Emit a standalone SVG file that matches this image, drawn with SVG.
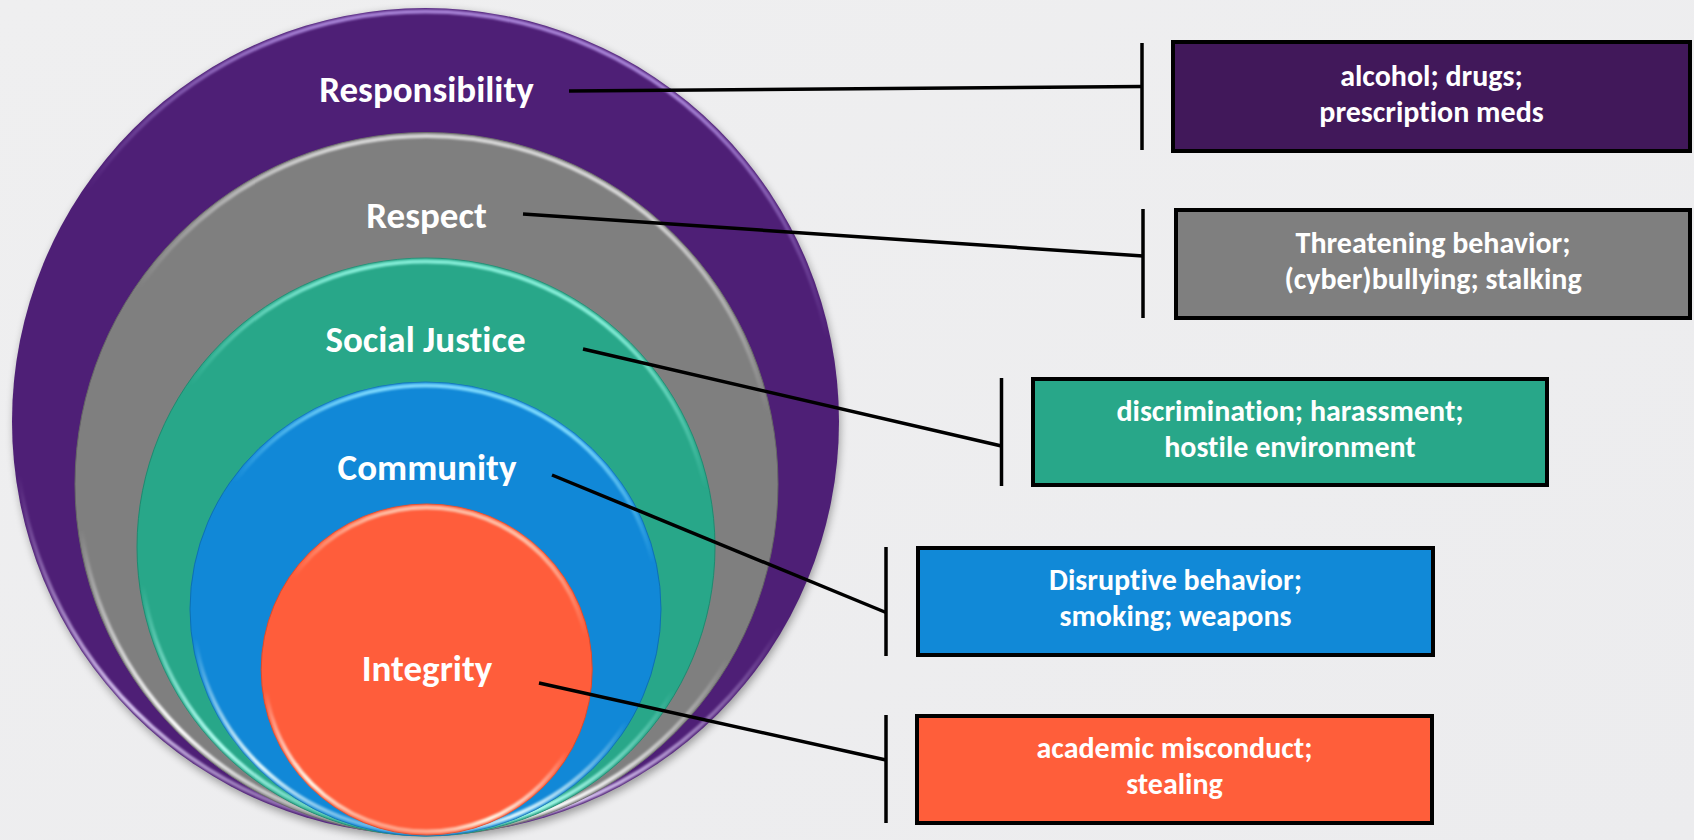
<svg xmlns="http://www.w3.org/2000/svg" width="1694" height="840" viewBox="0 0 1694 840">
<defs>
<style>
.lbl{font-family:Calibri,Carlito,Lato,"Liberation Sans",sans-serif;font-weight:700;fill:#fff;text-anchor:middle;font-variant-ligatures:none;font-feature-settings:"liga" 0}
.big{font-size:37px}
.box{font-size:30px}
.conn{stroke:#000;stroke-width:3.5;fill:none}
.bx{stroke:#000;stroke-width:4}
</style>
<linearGradient id="bg" x1="0" y1="0" x2="1" y2="1">
<stop offset="0" stop-color="#efeff0"/><stop offset="1" stop-color="#ececee"/>
</linearGradient>
<linearGradient id="rimP" x1="0.3" y1="0" x2="0.1" y2="1">
<stop offset="0" stop-color="#b08ce0" stop-opacity="0.9"/><stop offset="0.25" stop-color="#b08ce0" stop-opacity="0"/>
<stop offset="0.6" stop-color="#e0c8ff" stop-opacity="0"/><stop offset="0.85" stop-color="#e8d8ff" stop-opacity="0.9"/><stop offset="1" stop-color="#e8d8ff" stop-opacity="0"/>
</linearGradient>
<linearGradient id="rimG" x1="0.3" y1="0" x2="0.1" y2="1">
<stop offset="0" stop-color="#e0e0e0" stop-opacity="0.9"/><stop offset="0.25" stop-color="#e0e0e0" stop-opacity="0"/>
<stop offset="0.6" stop-color="#fff" stop-opacity="0"/><stop offset="0.85" stop-color="#fff" stop-opacity="1"/><stop offset="1" stop-color="#fff" stop-opacity="0"/>
</linearGradient>
<linearGradient id="rimT" x1="0.3" y1="0" x2="0.1" y2="1">
<stop offset="0" stop-color="#8ff5e0" stop-opacity="0.9"/><stop offset="0.25" stop-color="#8ff5e0" stop-opacity="0"/>
<stop offset="0.6" stop-color="#b0fff0" stop-opacity="0"/><stop offset="0.85" stop-color="#b0fff0" stop-opacity="1"/><stop offset="1" stop-color="#b0fff0" stop-opacity="0"/>
</linearGradient>
<linearGradient id="rimB" x1="0.3" y1="0" x2="0.1" y2="1">
<stop offset="0" stop-color="#80dcff" stop-opacity="0.95"/><stop offset="0.25" stop-color="#80dcff" stop-opacity="0"/>
<stop offset="0.6" stop-color="#d0f4ff" stop-opacity="0"/><stop offset="0.85" stop-color="#e0f8ff" stop-opacity="1"/><stop offset="1" stop-color="#e0f8ff" stop-opacity="0"/>
</linearGradient>
<linearGradient id="rimO" x1="0.3" y1="0" x2="0.1" y2="1">
<stop offset="0" stop-color="#ffc8b0" stop-opacity="0.9"/><stop offset="0.25" stop-color="#ffc8b0" stop-opacity="0"/>
<stop offset="0.6" stop-color="#fff" stop-opacity="0"/><stop offset="0.85" stop-color="#fff8e8" stop-opacity="1"/><stop offset="1" stop-color="#fff8e8" stop-opacity="0"/>
</linearGradient>
<filter id="blur" x="-10%" y="-10%" width="120%" height="120%"><feGaussianBlur stdDeviation="4"/></filter>
<filter id="soft" x="-10%" y="-10%" width="120%" height="120%"><feGaussianBlur stdDeviation="1.2"/></filter>
</defs>
<rect width="1694" height="840" fill="url(#bg)"/>

<ellipse cx="427" cy="425" rx="413" ry="414" fill="#000" opacity="0.35" filter="url(#blur)"/>

<g id="node-responsibility">
<circle cx="425.5" cy="421.5" r="413.5" fill="#4e1f76"/>
<circle cx="425.5" cy="421.5" r="410" fill="none" stroke="url(#rimP)" stroke-width="4" filter="url(#soft)"/>
<text class="lbl big" x="426.5" y="102">Responsibility</text>
</g>
<g id="node-respect">
<circle cx="426.5" cy="484" r="351.5" fill="#7f7f7f" stroke="#666" stroke-width="1"/>
<circle cx="426.5" cy="484" r="348" fill="none" stroke="url(#rimG)" stroke-width="4" filter="url(#soft)"/>
<text class="lbl big" x="426.5" y="228">Respect</text>
</g>
<g id="node-social-justice">
<circle cx="426" cy="547" r="289" fill="#28a789" stroke="#1e8a70" stroke-width="1"/>
<circle cx="426" cy="547" r="285.5" fill="none" stroke="url(#rimT)" stroke-width="4" filter="url(#soft)"/>
<text class="lbl big" x="425.5" y="352">Social Justice</text>
</g>
<g id="node-community">
<ellipse cx="425.5" cy="609" rx="235.5" ry="227" fill="#1188d7" stroke="#0d70b3" stroke-width="1"/>
<ellipse cx="425.5" cy="609" rx="232" ry="223.5" fill="none" stroke="url(#rimB)" stroke-width="4" filter="url(#soft)"/>
<text class="lbl big" x="427" y="480">Community</text>
</g>
<g id="node-integrity">
<circle cx="426.7" cy="669.5" r="165.5" fill="#ff5d3b" stroke="#e04a2a" stroke-width="1"/>
<circle cx="426.7" cy="669.5" r="162" fill="none" stroke="url(#rimO)" stroke-width="4" filter="url(#soft)"/>
<text class="lbl big" x="427" y="681">Integrity</text>
</g>

<g id="connectors">
<line class="conn" x1="569" y1="91" x2="1142" y2="86.5"/>
<line class="conn" x1="1142" y1="43" x2="1142" y2="150"/>
<line class="conn" x1="523" y1="214" x2="1143" y2="256"/>
<line class="conn" x1="1143" y1="209" x2="1143" y2="318"/>
<line class="conn" x1="583" y1="349" x2="1001.5" y2="446"/>
<line class="conn" x1="1001.5" y1="378" x2="1001.5" y2="486"/>
<line class="conn" x1="552" y1="475" x2="886" y2="612.5"/>
<line class="conn" x1="886" y1="547" x2="886" y2="656"/>
<line class="conn" x1="539" y1="683" x2="886" y2="760"/>
<line class="conn" x1="886" y1="715" x2="886" y2="823"/>
</g>

<g id="box-responsibility">
<rect class="bx" x="1173" y="42" width="517" height="109" fill="#41185a"/>
<text class="lbl box" x="1431.5" y="86">alcohol; drugs;<tspan x="1431.5" dy="36">prescription meds</tspan></text>
</g>
<g id="box-respect">
<rect class="bx" x="1176" y="210" width="514" height="108" fill="#7f7f7f"/>
<text class="lbl box" x="1433" y="253">Threatening behavior;<tspan x="1433" dy="36">(cyber)bullying; stalking</tspan></text>
</g>
<g id="box-social-justice">
<rect class="bx" x="1033" y="379" width="514" height="106" fill="#28a789"/>
<text class="lbl box" x="1290" y="421">discrimination; harassment;<tspan x="1290" dy="36">hostile environment</tspan></text>
</g>
<g id="box-community">
<rect class="bx" x="918" y="548" width="515" height="107" fill="#1189d7"/>
<text class="lbl box" x="1175.5" y="590">Disruptive behavior;<tspan x="1175.5" dy="36">smoking; weapons</tspan></text>
</g>
<g id="box-integrity">
<rect class="bx" x="917" y="716" width="515" height="107" fill="#ff5e3a"/>
<text class="lbl box" x="1174.5" y="758">academic misconduct;<tspan x="1174.5" dy="36">stealing</tspan></text>
</g>
</svg>
